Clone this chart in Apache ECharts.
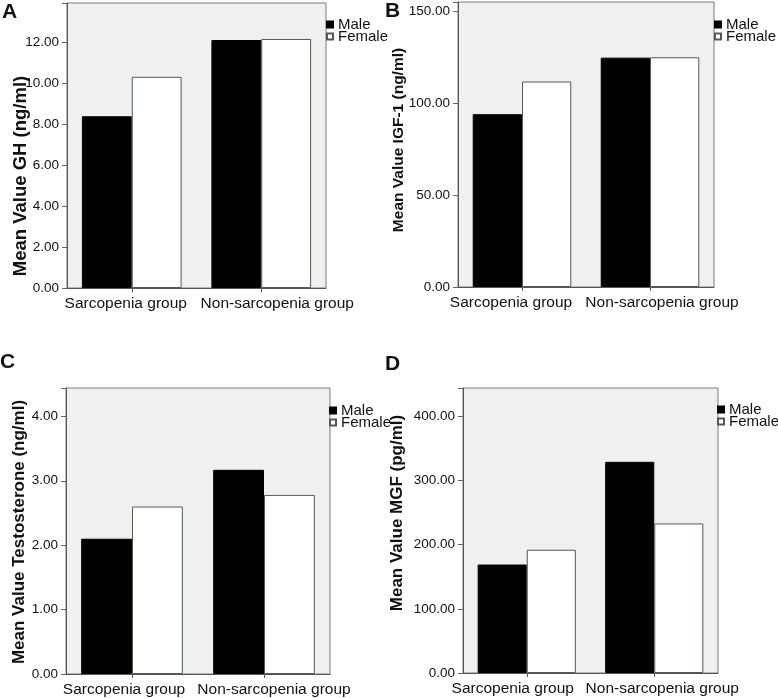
<!DOCTYPE html>
<html>
<head>
<meta charset="utf-8">
<script src="https://cdn.jsdelivr.net/npm/echarts@6/dist/echarts.min.js"></script>
<style>html,body{margin:0;padding:0;background:#fff;}#c{width:778px;height:698px;}</style>
</head>
<body>
<div id="c"></div>
<script>
// ---- data ----
const categories = ['Sarcopenia group', 'Non-sarcopenia group'];
const seriesNames = ['Male', 'Female'];
const panelLetters = ['A', 'B', 'C', 'D'];
const axisTitles = ['Mean Value GH (ng/ml)', 'Mean Value IGF-1 (ng/ml)', 'Mean Value Testosterone (ng/ml)', 'Mean Value MGF (pg/ml)'];
const ghMale = [8.40, 12.13];
const ghFemale = [10.33, 12.18];
const igfMale = [94.1, 124.9];
const igfFemale = [111.9, 125.1];
const testoMale = [2.10, 3.17];
const testoFemale = [2.60, 2.78];
const mgfMale = [169, 329];
const mgfFemale = [192, 233];
const axisMax = [13.94, 155.2, 4.44, 444];
const axisInterval = [2, 50, 1, 100];

const maleData = [ghMale, igfMale, testoMale, mgfMale];
const femaleData = [ghFemale, igfFemale, testoFemale, mgfFemale];

// ---- layout ----
const FONT = '"Liberation Sans", Arial, Helvetica, sans-serif';
const grids = [
  {left: 67, top: 3, width: 259, height: 285},
  {left: 458, top: 2, width: 256, height: 285},
  {left: 66, top: 388, width: 264, height: 287},
  {left: 463, top: 388, width: 255, height: 285}
];
// horizontal shift (px) of the two category labels in each panel
const labelShift = [[-6, 16], [-11, 12], [-8, 10], [-14, 8]];
const legendPos = [
  {left: 326, top: 17},
  {left: 714, top: 17},
  {left: 329, top: 403},
  {left: 717, top: 402}
];
const titlePos = [
  {x: 21, y: 176, size: 18.5},
  {x: 399, y: 140, size: 15.5},
  {x: 19, y: 532, size: 17},
  {x: 397, y: 513, size: 17}
];
const letterPos = [
  {x: 2, y: 2}, {x: 385, y: 1}, {x: 0, y: 352}, {x: 385, y: 354}
];

const chart = echarts.init(document.getElementById('c'), null, {renderer: 'canvas'});

function pad(s) {
  return s < 0 ? [0, -2 * s, 0, 0] : [0, 0, 0, 2 * s];
}

const option = {
  backgroundColor: '#ffffff',
  animation: false,
  grid: grids.map(g => Object.assign({show: true, backgroundColor: '#f0f0f0', borderColor: '#7a7a7a', borderWidth: 1, containLabel: false}, g)),
  xAxis: grids.map((g, i) => ({
    type: 'category', gridIndex: i, data: categories,
    axisLine: {show: true, lineStyle: {color: '#555', width: 1}},
    axisTick: {show: true, alignWithLabel: true, length: 4, lineStyle: {color: '#555'}},
    axisLabel: {
      fontFamily: FONT, fontSize: 15.5, color: '#111', margin: 8, interval: 0, hideOverlap: false,
      formatter: (v, idx) => '{l' + idx + '|' + v + '}',
      rich: {
        l0: {fontFamily: FONT, fontSize: 15.5, color: '#111', padding: pad(labelShift[i][0])},
        l1: {fontFamily: FONT, fontSize: 15.5, color: '#111', padding: pad(labelShift[i][1])}
      }
    },
    splitLine: {show: false}
  })),
  yAxis: grids.map((g, i) => ({
    type: 'value', gridIndex: i, min: 0, max: axisMax[i], interval: axisInterval[i],
    axisLine: {show: true, lineStyle: {color: '#555', width: 1}},
    axisTick: {show: true, length: 5, lineStyle: {color: '#666'}},
    splitLine: {show: false},
    axisLabel: {
      fontFamily: FONT, fontSize: 13.5, color: '#111', margin: 8,
      formatter: v => {
        const r = v / axisInterval[i];
        return Math.abs(r - Math.round(r)) < 1e-6 ? v.toFixed(2) : '';
      }
    }
  })),
  legend: legendPos.map(p => ({
    data: seriesNames, orient: 'vertical', left: p.left, top: p.top,
    padding: 0, itemGap: -3, itemWidth: 6, itemHeight: 6, icon: 'rect',
    selectedMode: false,
    textStyle: {fontFamily: FONT, fontSize: 15, color: '#111'}
  })),
  series: [],
  graphic: []
};

for (let i = 0; i < 4; i++) {
  option.series.push({
    name: seriesNames[0], type: 'bar', xAxisIndex: i, yAxisIndex: i,
    data: maleData[i], barGap: '0%', barCategoryGap: '23%',
    itemStyle: {color: '#000000', borderColor: '#000000', borderWidth: 1}
  });
  option.series.push({
    name: seriesNames[1], type: 'bar', xAxisIndex: i, yAxisIndex: i,
    data: femaleData[i], barGap: '0%', barCategoryGap: '23%',
    itemStyle: {color: '#ffffff', borderColor: '#4d5e50', borderWidth: 1}
  });
  option.graphic.push({
    type: 'text', left: letterPos[i].x, top: letterPos[i].y,
    style: {text: panelLetters[i], font: 'bold 21px ' + FONT, fill: '#111'}
  });
  option.graphic.push({
    type: 'text', x: titlePos[i].x, y: titlePos[i].y, rotation: Math.PI / 2,
    style: {text: axisTitles[i], font: 'bold ' + titlePos[i].size + 'px ' + FONT, fill: '#111', align: 'center', verticalAlign: 'middle'}
  });
}

chart.setOption(option);
</script>
</body>
</html>
